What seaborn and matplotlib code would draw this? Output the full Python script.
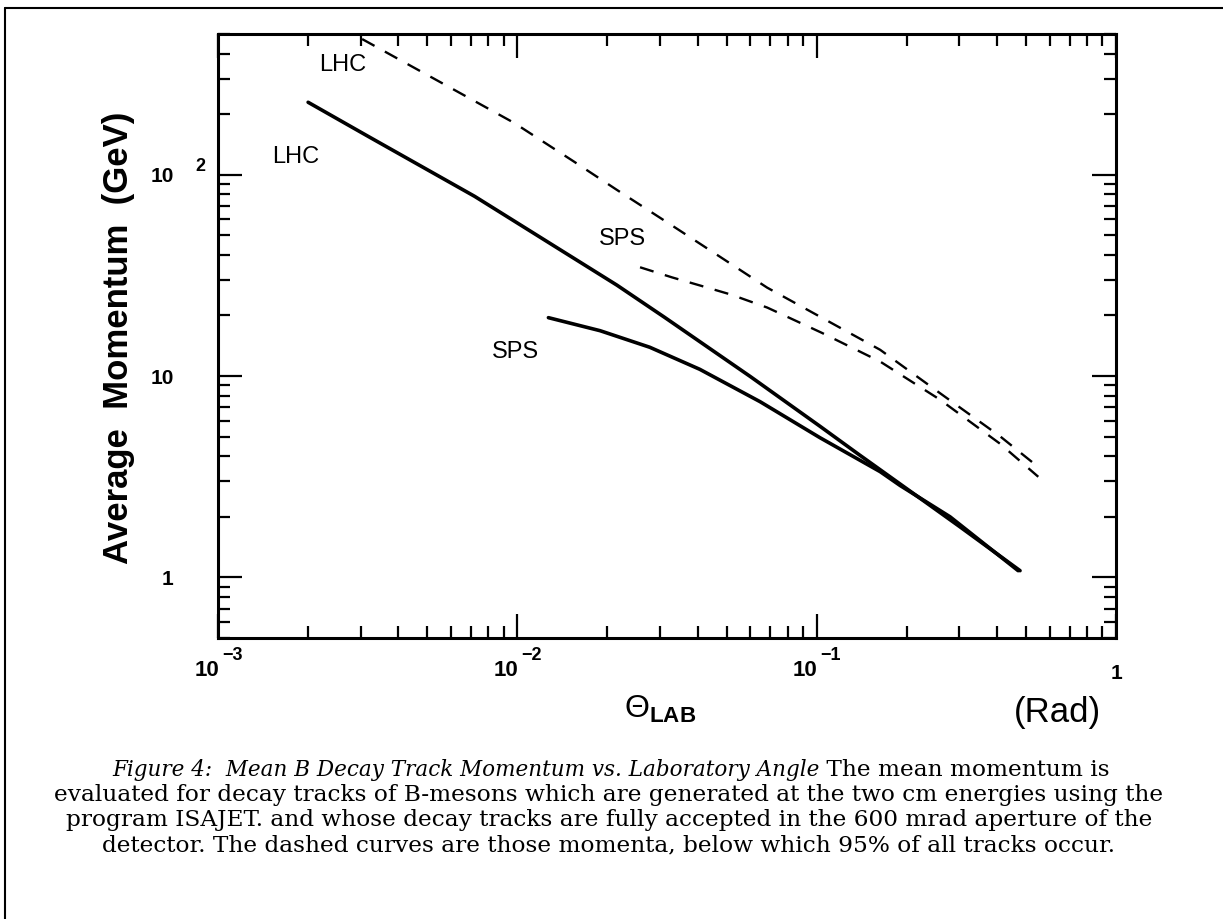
import numpy as np
import pandas as pd
import matplotlib.pyplot as plt
import seaborn as sns
from matplotlib.lines import Line2D
from matplotlib.transforms import blended_transform_factory

# Mean momentum (GeV) vs laboratory angle (rad)
lhc_theta = [0.002, 0.0032, 0.0072, 0.0132, 0.0215, 0.031, 0.06, 0.1026, 0.137, 0.19, 0.30, 0.478]
lhc_mean = [229, 154, 78.1, 44.5, 28.3, 19.6, 9.95, 5.63, 4.12, 2.91, 1.79, 1.08]

sps_theta = [0.0127, 0.0189, 0.0277, 0.0407, 0.0647, 0.1026, 0.163, 0.19, 0.279, 0.471]
sps_mean = [19.5, 16.8, 13.9, 10.8, 7.46, 4.94, 3.35, 2.86, 2.0, 1.08]

# momenta below which 95% of the tracks occur (dashed)
lhc95_theta = [0.00303, 0.00531, 0.00975, 0.01535, 0.0215, 0.0329, 0.0472, 0.0683,
               0.104, 0.163, 0.258, 0.41, 0.528]
lhc95_mom = [472, 298, 181, 117, 84.1, 55.9, 39.4, 27.5, 19.5, 13.5, 8.23, 5.02, 3.71]

sps95_theta = [0.0257, 0.0329, 0.0417, 0.0517, 0.0683, 0.104, 0.163, 0.258, 0.41, 0.55]
sps95_mom = [34.7, 30.9, 27.9, 25.4, 21.9, 16.4, 11.8, 7.64, 4.61, 3.16]

# curve labels
label_text = ["LHC", "LHC", "SPS", "SPS"]
label_theta = [0.0026, 0.00182, 0.0224, 0.00982]
label_mom = [351, 122, 47.7, 13.1]

x_decades = [1e-3, 1e-2, 1e-1]
x_exponents = ["\u22123", "\u22122", "\u22121"]
y_ticks = [1, 10, 100]
y_ticklabels = ["1", "10", "10"]

caption_italic = "Figure 4:  Mean B Decay Track Momentum vs. Laboratory Angle"
caption_rest = [
    " The mean momentum is",
    "evaluated for decay tracks of B-mesons which are generated at the two cm energies using the",
    "program ISAJET. and whose decay tracks are fully accepted in the 600 mrad aperture of the",
    "detector. The dashed curves are those momenta, below which 95% of all tracks occur.",
]

sns.set_theme(style="ticks")
plt.rcParams["font.family"] = ["Liberation Sans", "DejaVu Sans"]
plt.rcParams["text.color"] = "black"
plt.rcParams["axes.labelcolor"] = "black"
plt.rcParams["xtick.color"] = "black"
plt.rcParams["ytick.color"] = "black"
plt.rcParams["mathtext.fontset"] = "custom"
plt.rcParams["mathtext.rm"] = "Liberation Sans"
plt.rcParams["mathtext.bf"] = "Liberation Sans:bold"
plt.rcParams["mathtext.it"] = "Liberation Sans:italic"

fig = plt.figure(figsize=(12.23, 9.19), dpi=100)
ax = fig.add_axes([218 / 1223, 1 - 638 / 919, 898 / 1223, 604 / 919])

sns.lineplot(x=lhc_theta, y=lhc_mean, ax=ax, color="black", lw=2.6, estimator=None)
sns.lineplot(x=sps_theta, y=sps_mean, ax=ax, color="black", lw=2.6, estimator=None)
sns.lineplot(x=lhc95_theta, y=lhc95_mom, ax=ax, color="black", lw=1.7, estimator=None,
             linestyle=(0, (6, 5)))
sns.lineplot(x=sps95_theta, y=sps95_mom, ax=ax, color="black", lw=1.7, estimator=None,
             linestyle=(0, (6, 5)))

for t, xv, yv in zip(label_text, label_theta, label_mom):
    ax.text(xv, yv, t, fontsize=17, ha="center", va="center", color="black")

ax.set_xscale("log")
ax.set_yscale("log")
ax.set_xlim(1e-3, 1)
ax.set_ylim(0.5, 500)

# x tick labels: "10" left of the tick, exponent raised to its right
ax.set_xticks(x_decades + [1])
ax.set_xticklabels([""] * len(x_decades) + ["1"])
for xv, ex in zip(x_decades, x_exponents):
    ax.annotate("10", xy=(xv, 0), xycoords=("data", "axes fraction"),
                xytext=(1, -32), textcoords="offset pixels",
                ha="right", va="center", fontsize=16, fontweight="bold", color="black")
    ax.annotate(ex, xy=(xv, 0), xycoords=("data", "axes fraction"),
                xytext=(4, -18), textcoords="offset pixels",
                ha="left", va="center", fontsize=13, fontweight="bold", color="black")

ax.set_yticks(y_ticks)
ax.set_yticklabels(y_ticklabels)
for lab in ax.get_xticklabels() + ax.get_yticklabels():
    lab.set_fontweight("bold")
    lab.set_fontsize(15)

ax.tick_params(which="both", direction="in", top=True, right=True, colors="black")
ax.tick_params(which="major", length=17, width=1.6)
ax.tick_params(which="minor", length=8.5, width=1.6)
ax.tick_params(axis="x", which="major", pad=19)
ax.tick_params(axis="y", which="major", pad=32)
for s in ax.spines.values():
    s.set_linewidth(2.2)
    s.set_color("black")
ax.grid(False)

# superscript of the 10^2 label
trans = blended_transform_factory(ax.transAxes, ax.transData)
ax.text(-0.02, 100, "2", transform=trans, fontsize=13, fontweight="bold",
        ha="center", va="bottom")

ax.set_xlabel("")
ax.set_ylabel("")
ax.text(-0.111, 0.4975, "Average  Momentum  (GeV)", transform=ax.transAxes,
        rotation=90, ha="center", va="center", fontsize=25, fontweight="bold")
ax.text(0.492, -0.119, r"$\Theta_{\mathbf{LAB}}$", transform=ax.transAxes,
        ha="center", va="center", fontsize=23)
ax.text(0.935, -0.123, "(Rad)", transform=ax.transAxes,
        ha="center", va="center", fontsize=25)

# caption, font size fitted to the width of the scanned text
renderer = fig.canvas.get_renderer()
cap_font = dict(family="DejaVu Serif", color="black")
probe = fig.text(0, 0, caption_rest[1], fontsize=10, **cap_font)
cap_size = 10 * 1118 / probe.get_window_extent(renderer).width
probe.remove()

y1 = 1 - 770 / 919
t2 = fig.text(0, y1, caption_rest[0], va="center", ha="left", fontsize=cap_size, **cap_font)
w2 = t2.get_window_extent(renderer).width
probe = fig.text(0, 0, caption_italic, style="italic", fontsize=10, **cap_font)
ital_size = 10 * (997 - w2) / probe.get_window_extent(renderer).width
probe.remove()
t1 = fig.text(0, y1, caption_italic, style="italic", va="center", ha="left",
              fontsize=ital_size, **cap_font)
w1 = t1.get_window_extent(renderer).width
x0 = 611 - (w1 + w2) / 2
t1.set_x(x0 / 1223)
t2.set_x((x0 + w1) / 1223)
for i, line in enumerate(caption_rest[1:]):
    fig.text(609 / 1223, 1 - (795 + 25 * i) / 919, line, ha="center", va="center",
             fontsize=cap_size, **cap_font)

# page frame
fig.add_artist(Line2D([5 / 1223, 5 / 1223], [0, 1 - 8 / 919], transform=fig.transFigure,
                      color="black", lw=1.5))
fig.add_artist(Line2D([5 / 1223, 1], [1 - 8 / 919, 1 - 8 / 919], transform=fig.transFigure,
                      color="black", lw=1.5))

fig.savefig("out.png", dpi=100, facecolor="white")
